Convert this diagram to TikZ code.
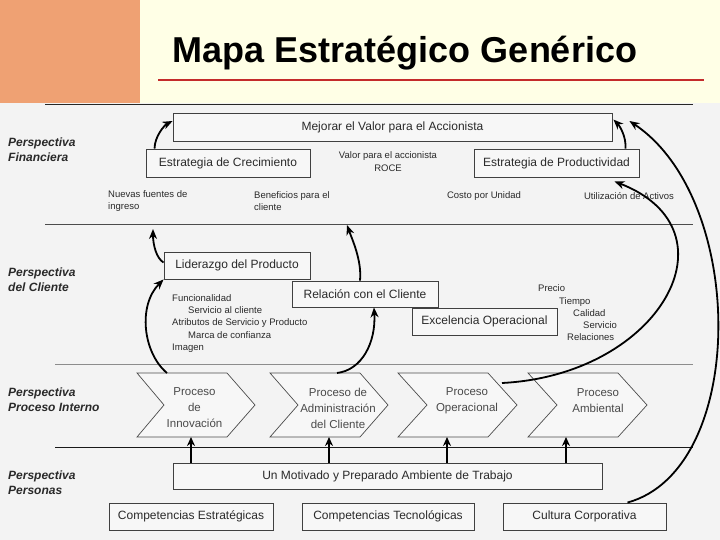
\documentclass[tikz,border=0pt]{standalone}
\usepackage{fontspec}
\setmainfont{Liberation Sans}
\usetikzlibrary{arrows.meta,calc}

\definecolor{cream}{HTML}{FFFFE6}
\definecolor{paper}{HTML}{F3F3F3}
\definecolor{peach}{HTML}{EFA173}
\definecolor{titlered}{HTML}{C42B2B}
\definecolor{ink}{HTML}{2A2A2A}

\tikzset{
  box/.style={draw=black!75, fill=white!97!black, line width=0.9pt, text=ink,
    font=\fontsize{12}{14}\selectfont, inner sep=0pt},
  chevline/.style={draw=black!70, fill=white!97!black, line width=0.7pt},
  chevtext/.style={inner sep=0pt, align=center, text=ink!85,
    font=\fontsize{11.5}{16}\selectfont},
  small/.style={font=\fontsize{9.5}{12.3}\selectfont, text=ink, inner sep=0pt},
  persp/.style={font=\fontsize{12}{15}\selectfont\bfseries\itshape, align=left,
    anchor=west, inner sep=0pt, text=ink},
  up/.style={-{Stealth[length=9pt,width=8pt]}, line width=2.4pt},
  curvearrow/.style={-{Stealth[length=10pt,width=8pt]}, line width=1.8pt},
  sep/.style={line width=0.9pt}
}

\begin{document}
\begin{tikzpicture}[x=1pt,y=-1pt]
\useasboundingbox (0,0) rectangle (720,540);

% background
\fill[cream] (0,0) rectangle (720,103);
\fill[peach] (0,0) rectangle (140,103);
\fill[paper] (0,103) rectangle (720,540);

% title
\node[text=black, font=\fontsize{36}{40}\selectfont\bfseries, anchor=base] (title) at (405,63) {Mapa Estratégico Genérico};
\draw[titlered, line width=2.5pt] (158,80) -- (704,80);

% separators
\draw[sep, black!85] (45,104) -- (693,104);
\draw[sep, black!70] (45,224) -- (693,224);
\draw[sep, black!45] (55,364) -- (693,364);
\draw[sep, black!90] (55,447) -- (693,447);

% perspectives
\node[persp] (pf) at (8,149.5) {Perspectiva\\Financiera};
\node[persp] (pcl) at (8,280) {Perspectiva\\del Cliente};
\node[persp] (ppi) at (8,400) {Perspectiva\\Proceso Interno};
\node[persp] (ppe) at (8,483) {Perspectiva\\Personas};

% financiera
\node[box, minimum width=439pt, minimum height=28pt] (mv) at (392.5,127) {Mejorar el Valor para el Accionista};
\node[box, minimum width=164pt, minimum height=28pt] (ec) at (228,163) {Estrategia de Crecimiento};
\node[box, minimum width=165pt, minimum height=28pt] (ep) at (556.5,163) {Estrategia de Productividad};
\node[small, align=center] (vr) at (388,161.5) {Valor para el accionista\\ROCE};
\node[small, align=left, anchor=west] (nf) at (108,201) {Nuevas fuentes de\\ingreso};
\node[small, align=left, anchor=west] (bc) at (254,201) {Beneficios para el\\cliente};
\node[small] (cu) at (484,196) {Costo por Unidad};
\node[small] (ua) at (629,196) {Utilización de Activos};

% cliente
\node[box, minimum width=146pt, minimum height=27pt] (lp) at (237,265.5) {Liderazgo del Producto};
\node[box, minimum width=146pt, minimum height=26pt] (rc) at (365,294) {Relación con el Cliente};
\node[box, minimum width=145pt, minimum height=27pt] (eo) at (484.5,321.5) {Excelencia Operacional};
\node[small, align=left, anchor=west] (attr) at (172,323.5) {Funcionalidad\\\hspace*{16pt}Servicio al cliente\\Atributos de Servicio y Producto\\\hspace*{16pt}Marca de confianza\\Imagen};
\node[small, align=left, anchor=west] (ptc) at (538,313) {Precio\\\hspace*{21pt}Tiempo\\\hspace*{35pt}Calidad\\\hspace*{45pt}Servicio\\\hspace*{29pt}Relaciones};

% proceso interno: chevrons
\draw[chevline] (137,373) -- ++(90,0) -- ++(28,32) -- ++(-28,32) -- ++(-90,0) -- ++(27,-32) -- cycle;
\draw[chevline] (270,373) -- ++(90,0) -- ++(28,32) -- ++(-28,32) -- ++(-90,0) -- ++(28,-32) -- cycle;
\draw[chevline] (398,373) -- ++(90,0) -- ++(29,32) -- ++(-29,32) -- ++(-90,0) -- ++(29,-32) -- cycle;
\draw[chevline] (528,373) -- ++(90,0) -- ++(29,32) -- ++(-29,32) -- ++(-90,0) -- ++(29,-32) -- cycle;
\node[chevtext] (pi) at (194.5,408) {Proceso\\de\\Innovación};
\node[chevtext] (pc) at (338,408) {Proceso de\\Administración\\del Cliente};
\node[chevtext] (po) at (467,400.5) {Proceso\\Operacional};
\node[chevtext] (pa) at (598,400.5) {Proceso\\Ambiental};

\coordinate (pib) at (191,437);
\coordinate (pcb) at (329,437);
\coordinate (pob) at (447,437);
\coordinate (pab) at (566,437);
\coordinate (pit) at (167,373);
\coordinate (pct) at (337,373);
\coordinate (poe) at (502,383);

% personas
\node[box, minimum width=429pt, minimum height=26pt] (mt) at (387.5,476) {Un Motivado y Preparado Ambiente de Trabajo};
\node[box, minimum width=164pt, minimum height=27pt] (ce) at (191,516.5) {Competencias Estratégicas};
\node[box, minimum width=172pt, minimum height=27pt] (ct) at (388,516.5) {Competencias Tecnológicas};
\node[box, minimum width=163pt, minimum height=27pt] (cc) at (584.5,516.5) {Cultura Corporativa};

\coordinate (nfup) at (153,229);
\coordinate (bcup) at (347,225);

% arrows
\draw[up] (mt.north -| pib) -- (pib);
\draw[up] (mt.north -| pcb) -- (pcb);
\draw[up] (mt.north -| pob) -- (pob);
\draw[up] (mt.north -| pab) -- (pab);

\draw[curvearrow] (pit) .. controls +(-24,-20) and +(-26,26) .. (lp.south west);
\draw[curvearrow] (pct) .. controls +(25,-3) and +(2,35) .. ($(rc.south)+(9,0)$);
\draw[curvearrow] ($(lp.west)+(0,-3)$) .. controls +(-7,-4) and +(0,16) .. (nfup);
\draw[curvearrow] ($(rc.north)+(-5,0)$) .. controls +(2,-20) and +(5,14) .. (bcup);
\draw[curvearrow] ($(ec.north west)+(9,0)$) .. controls +(0,-12) and +(-8,4) .. ($(mv.west)+(0,-6)$);
\draw[curvearrow] ($(ep.north east)+(-14,0)$) .. controls +(1,-12) and +(6,6) .. ($(mv.north east)+(1,7)$);
\draw[curvearrow] (poe) .. controls +(158,-8) and +(126,49) .. ($(ep.south)+(58,4)$);
\draw[curvearrow] ($(cc.north)+(43,0)$) .. controls +(120,-33) and +(118,79) .. ($(mv.east)+(17,-6)$);

\end{tikzpicture}
\end{document}
